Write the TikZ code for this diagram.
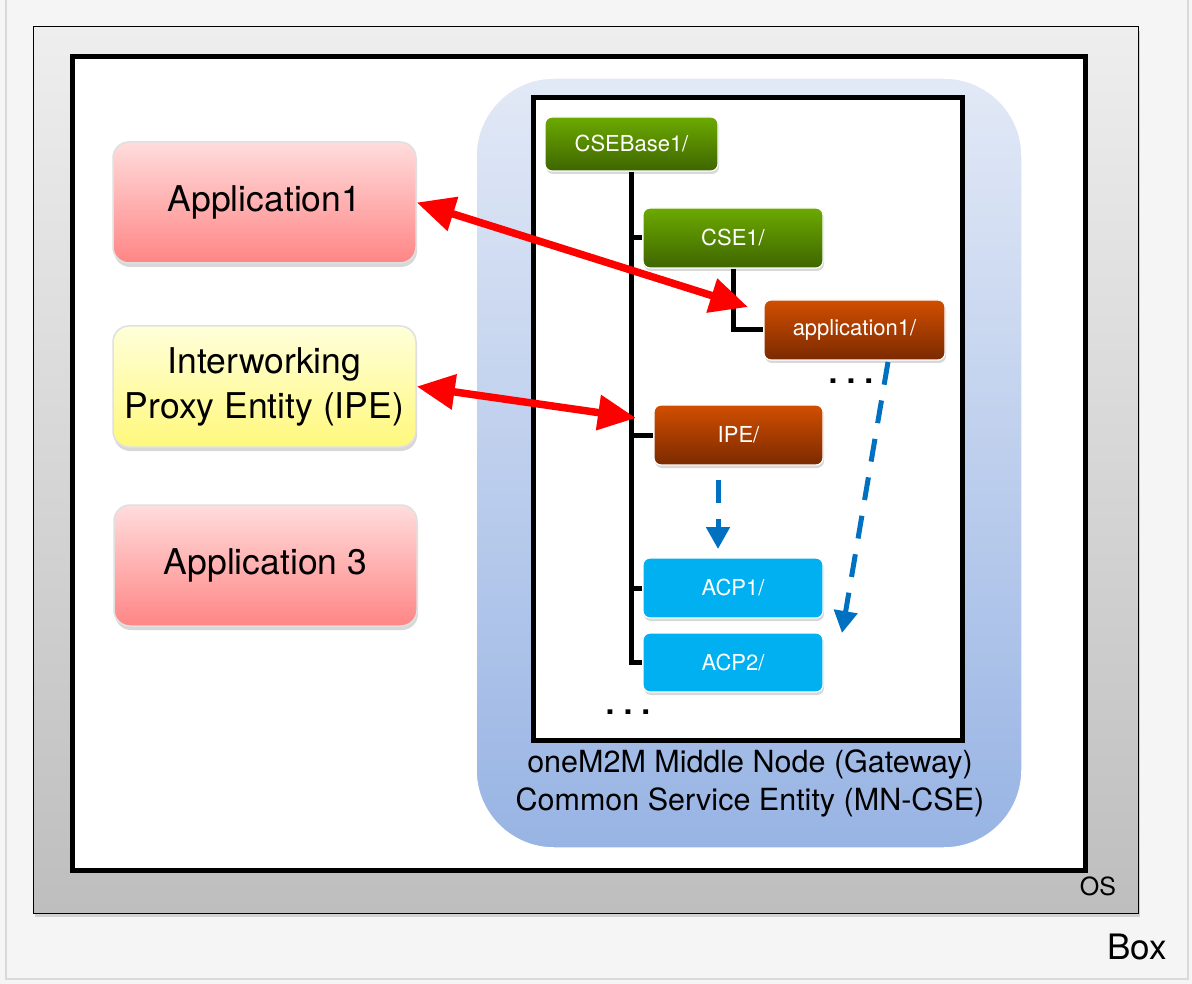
\documentclass[tikz,border=0pt]{standalone}
\usepackage{fontspec}
\setmainfont{TeX Gyre Heros}
\usetikzlibrary{arrows.meta,shadows}

\definecolor{boxgray}{HTML}{F5F5F5}
\definecolor{osTop}{HTML}{EEEEEE}
\definecolor{osBot}{HTML}{BEBEBE}
\definecolor{mnTop}{HTML}{E2E9F6}
\definecolor{mnBot}{HTML}{98B4E4}
\definecolor{greenTop}{HTML}{6CAA00}
\definecolor{greenBot}{HTML}{3E6500}
\definecolor{orangeTop}{HTML}{D24E00}
\definecolor{orangeBot}{HTML}{7A2A00}
\definecolor{acpCyan}{HTML}{00B0F0}
\definecolor{pinkTop}{HTML}{FFDCDC}
\definecolor{pinkBot}{HTML}{FF8585}
\definecolor{yellowTop}{HTML}{FFFFDA}
\definecolor{yellowBot}{HTML}{FFF87C}
\definecolor{linkBlue}{HTML}{0070C0}

\tikzset{
  res/.style={rounded corners=7pt, draw=white, line width=1.2pt, text=white,
    font=\fontsize{22}{26}\selectfont,
    drop shadow={shadow xshift=1pt, shadow yshift=-3pt, opacity=0.3}},
  greenres/.style={res, top color=greenTop, bottom color=greenBot},
  orangeres/.style={res, top color=orangeTop, bottom color=orangeBot},
  acpres/.style={res, fill=acpCyan},
  entity/.style={rounded corners=16pt, draw=black!12, line width=1.5pt,
    minimum width=303pt, minimum height=121pt, align=center,
    font=\fontsize{35.5}{45}\selectfont,
    drop shadow={shadow xshift=1pt, shadow yshift=-4pt, opacity=0.3}},
  tree/.style={line width=5pt},
  moredots/.style={font=\fontsize{32}{32}\selectfont\bfseries},
  reqarrow/.style={<->, >={Triangle[length=38pt,width=34pt]}, red, line width=7.5pt},
  aclarrow/.style={->, >={Triangle[length=22pt,width=23pt]}, linkBlue,
    line width=5pt, dash pattern=on 23pt off 16pt}
}

\begin{document}
\begin{tikzpicture}[x=1pt,y=-1pt]
  \useasboundingbox (0,0) rectangle (1192,984);
  \fill[boxgray] (0,0) rectangle (1192,984);
  \draw[black!15, line width=2pt] (6,-5) -- (6,979) -- (1188,979) -- (1188,-5);

  % OS and its host
  \shade[top color=osTop, bottom color=osBot, draw=black, line width=1pt,
    drop shadow={shadow xshift=2pt, shadow yshift=-4pt, opacity=0.3}]
    (33,27) rectangle (1138,913);
  \draw[fill=white, line width=5pt] (72,57) rectangle (1085,870);

  % MN-CSE
  \shade[top color=mnTop, bottom color=mnBot, draw=white, line width=1.5pt,
    rounded corners=78pt] (476,78) rectangle (1022,848);
  \draw[fill=white, line width=5pt] (533,98) rectangle (962,740);

  \node[greenres, minimum width=173pt, minimum height=54pt] (base) at (631.5,144) {CSEBase1/};
  \node[greenres, minimum width=180pt, minimum height=60pt] (cse) at (733,238) {CSE1/};
  \node[orangeres, minimum width=181pt, minimum height=60pt] (app) at (854.5,330) {application1/};
  \node[orangeres, minimum width=169pt, minimum height=60pt] (ipe) at (738.5,435) {IPE/};
  \node[acpres, minimum width=180pt, minimum height=60pt] (acp1) at (733,588) {ACP1/};
  \node[acpres, minimum width=180pt, minimum height=59pt] (acp2) at (733,662.5) {ACP2/};

  \draw[tree] (base.south) |- (acp2.west);
  \draw[tree] (base.south |- cse.west) -- (cse.west);
  \draw[tree] (base.south |- ipe.west) -- (ipe.west);
  \draw[tree] (base.south |- acp1.west) -- (acp1.west);
  \draw[tree] (cse.south) |- (app.west);

  \node[moredots] (moreapp) at (851,381) {.\hspace{9pt}.\hspace{9pt}.};
  \node[moredots] (moreres) at (628,712) {.\hspace{9pt}.\hspace{9pt}.};

  \node[align=center, font=\fontsize{30.5}{38}\selectfont] (mnlabel) at (750,783)
    {oneM2M Middle Node (Gateway)\\Common Service Entity (MN-CSE)};

  % entities outside the CSE
  \node[entity, top color=pinkTop, bottom color=pinkBot] (app1) at (264.5,202.5) {Application1};
  \node[entity, top color=yellowTop, bottom color=yellowBot] (ipent) at (264.5,386.5)
    {Interworking\\Proxy Entity (IPE)};
  \node[entity, top color=pinkTop, bottom color=pinkBot] (app3) at (265.5,565.5) {Application 3};

  \coordinate (appin) at (748,307);
  \coordinate (ipein) at (636,418);
  \draw[reqarrow] (app1.east) -- (appin);
  \draw[reqarrow] (ipent.east) -- (ipein);

  \coordinate (ipeacl) at (718,480);
  \coordinate (acl1in) at (718,549);
  \coordinate (appacl) at (888,362);
  \coordinate (acl2in) at (842,633);
  \draw[aclarrow] (ipeacl) -- (acl1in);
  \draw[aclarrow] (appacl) -- (acl2in);

  \node[font=\fontsize{25}{25}\selectfont] (oslabel) at (1098,886) {OS};
  \node[font=\fontsize{35}{35}\selectfont] (boxlabel) at (1137,947) {Box};
\end{tikzpicture}
\end{document}
